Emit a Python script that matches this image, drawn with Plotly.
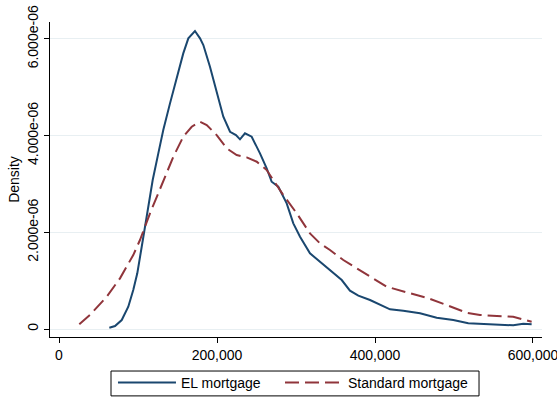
import plotly.graph_objects as go

# EL mortgage density (x = loan amount, y = density in 1e-6 units)
el_x = [63700, 70900, 79400, 87700, 94000, 99100, 104700, 111000, 115200, 118600,
        125700, 132000, 140500, 149000, 157300, 163700, 172100, 178500, 182700, 191100,
        199600, 208000, 216500, 224000, 229100, 235400, 243900, 250300, 254400, 262900,
        269200, 277600, 288200, 296600, 305100, 317700, 330400, 343000, 357900, 368300,
        378900, 393700, 406300, 419000, 435800, 457000, 478100, 499100, 518100, 549700,
        575000, 587700, 598300]
el_y = [0.027, 0.062, 0.186, 0.461, 0.807, 1.152, 1.702, 2.322, 2.806, 3.082,
        3.633, 4.115, 4.667, 5.218, 5.701, 6.012, 6.163, 6.012, 5.873, 5.424,
        4.874, 4.390, 4.080, 4.012, 3.923, 4.047, 3.977, 3.770, 3.633, 3.323,
        3.046, 2.943, 2.599, 2.186, 1.910, 1.565, 1.392, 1.220, 1.013, 0.792,
        0.689, 0.600, 0.496, 0.407, 0.378, 0.325, 0.234, 0.186, 0.118, 0.097,
        0.077, 0.110, 0.097]

# Standard mortgage density
std_x = [25700, 39200, 60400, 77200, 94000, 102500, 115200, 125700, 134200, 144700,
         157300, 168000, 178500, 187000, 199600, 212300, 224900, 237600, 250300, 262900,
         271300, 283900, 300900, 317700, 330400, 343000, 359900, 376800, 397800, 414800,
         440100, 465400, 490800, 516100, 532900, 575000, 598300]
std_y = [0.097, 0.290, 0.668, 1.048, 1.530, 1.841, 2.393, 2.806, 3.150, 3.563,
         3.977, 4.184, 4.287, 4.219, 4.012, 3.737, 3.598, 3.551, 3.460, 3.288,
         3.081, 2.771, 2.393, 1.979, 1.772, 1.634, 1.427, 1.255, 1.048, 0.875,
         0.759, 0.647, 0.496, 0.337, 0.290, 0.254, 0.151]

x_ticks = [0, 200000, 400000, 600000]
x_ticklabels = ["0", "200,000", "400,000", "600,000"]
y_ticks = [0, 2e-6, 4e-6, 6e-6]
y_ticklabels = ["0", "2.000e-06", "4.000e-06", "6.000e-06"]

scale = 1e-6
fig = go.Figure()
fig.add_trace(go.Scatter(x=el_x, y=[v * scale for v in el_y], mode="lines",
                         name="EL mortgage", legend="legend",
                         line=dict(color="#1a476f", width=2)))
fig.add_trace(go.Scatter(x=std_x, y=[v * scale for v in std_y], mode="lines",
                         name="Standard mortgage", legend="legend2",
                         line=dict(color="#90353b", width=2, dash="14px,6px")))

font_family = "Arial, Liberation Sans, sans-serif"
leg_common = dict(orientation="h", yanchor="middle", y=-0.146, xanchor="left",
                  bgcolor="rgba(0,0,0,0)", borderwidth=0,
                  font=dict(size=14, color="black"), itemwidth=58)
fig.update_layout(
    width=557, height=400,
    margin=dict(l=50, r=15, t=22, b=63, autoexpand=False),
    paper_bgcolor="white", plot_bgcolor="white",
    font=dict(family=font_family, size=14, color="black"),
    showlegend=True,
    hovermode=False,
    legend=dict(x=0.128, **leg_common),
    legend2=dict(x=0.4675, **leg_common),
    shapes=[dict(type="rect", xref="paper", yref="paper",
                 x0=0.124, x1=0.872, y0=-0.187, y1=-0.108,
                 line=dict(color="black", width=1), fillcolor="rgba(0,0,0,0)",
                 layer="below")],
    xaxis=dict(range=[-11400, 611400], tickvals=x_ticks, ticktext=x_ticklabels,
               showgrid=False, zeroline=False, showline=True, linecolor="black",
               linewidth=1, ticks="outside", ticklen=5, tickcolor="black",
               tickfont=dict(size=14), automargin=False, ticklabeloverflow="allow"),
    yaxis=dict(range=[-0.165e-6, 6.35e-6], tickvals=y_ticks, ticktext=y_ticklabels,
               showgrid=True, gridcolor="#e8eff2", gridwidth=1, zeroline=False,
               showline=True, linecolor="black", linewidth=1, ticks="outside",
               ticklen=5, tickcolor="black", tickangle=-90, tickfont=dict(size=14),
               ticklabeloverflow="allow",
               title=dict(text="Density", font=dict(size=14), standoff=2),
               automargin=False),
)

fig.write_html("out.html", config={"displayModeBar": False},
               post_script="document.body.style.margin='0';document.body.style.overflow='hidden';")
